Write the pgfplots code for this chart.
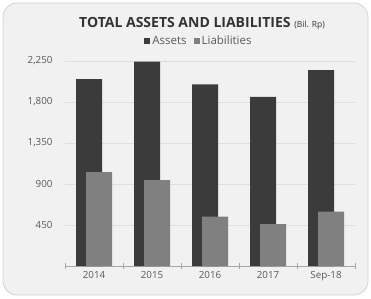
\documentclass[border=0pt]{standalone}
\usepackage{pgfplots}
\pgfplotsset{compat=1.18}
\usepackage{fontspec}
\setmainfont{Open Sans}
\definecolor{bgc}{HTML}{F1F1F1}
\definecolor{assetc}{HTML}{3B3B3B}
\definecolor{liabc}{HTML}{808080}
\definecolor{txtc}{HTML}{595959}
\definecolor{gridc}{HTML}{DEDEDE}
\begin{document}
\begin{tikzpicture}[x=1pt,y=1pt]
\fill[white] (0,0) rectangle (371,298);
\draw[rounded corners=14pt, fill=bgc, draw=gray!35, line width=0.8pt] (3,3) rectangle (368,295);
\begin{axis}[
  at={(65pt,32pt)}, anchor=south west,
  scale only axis, width=290pt, height=209.5pt,
  xmin=-0.5, xmax=4.5, ymin=0, ymax=2300,
  ybar, bar width=26pt,
  major tick length=0pt,
  xtick={0,1,2,3,4},
  xticklabels={2014,2015,2016,2017,Sep-18},
  extra x ticks={-0.5,0.5,1.5,2.5,3.5,4.5},
  extra x tick labels={},
  extra x tick style={major tick length=6pt, tick align=center, tick style={draw=gray!70}},
  ytick={450,900,1350,1800,2250},
  axis y line*=left, y axis line style={draw=none},
  axis x line*=bottom,
  x axis line style={draw=gray!70, line width=0.8pt, -},
  /pgf/number format/1000 sep={,},
  /pgf/number format/assume math mode=true,
  tick label style={font=\fontsize{9.8}{11}\selectfont, text=txtc},
  xticklabel style={yshift=-2pt},
  yticklabel style={xshift=-9pt},
  clip=false,
  legend style={at={(0.462,1.075)}, anchor=center, draw=none, fill=none,
    font=\fontsize{11.5}{13}\selectfont, text=txtc, legend columns=-1,
    /tikz/every even column/.append style={column sep=5pt}, inner sep=0pt},
  legend image code/.code={\fill[#1] (0pt,-3pt) rectangle (6pt,3pt);},
]
\foreach \g in {450,900,1350,1800,2250} {
  \edef\temp{\noexpand\draw[gridc, line width=0.9pt] (axis cs:-0.5,\g) -- (axis cs:4.5,\g);}
  \temp
}
\addplot[fill=assetc, draw=none, bar shift=-5pt] coordinates {(0,2053) (1,2243) (2,1995) (3,1858) (4,2151)};
\addlegendentry{Assets}
\addplot[fill=liabc, draw=none, bar shift=5pt] coordinates {(0,1032) (1,944) (2,541) (3,461) (4,596)};
\addlegendentry{Liabilities}
\end{axis}
\node[anchor=center, text=black!80] at (202,275) {\fontsize{14}{16}\selectfont\bfseries TOTAL ASSETS AND LIABILITIES \fontsize{8.5}{10}\selectfont\mdseries (Bil. Rp)};
\end{tikzpicture}
\end{document}
